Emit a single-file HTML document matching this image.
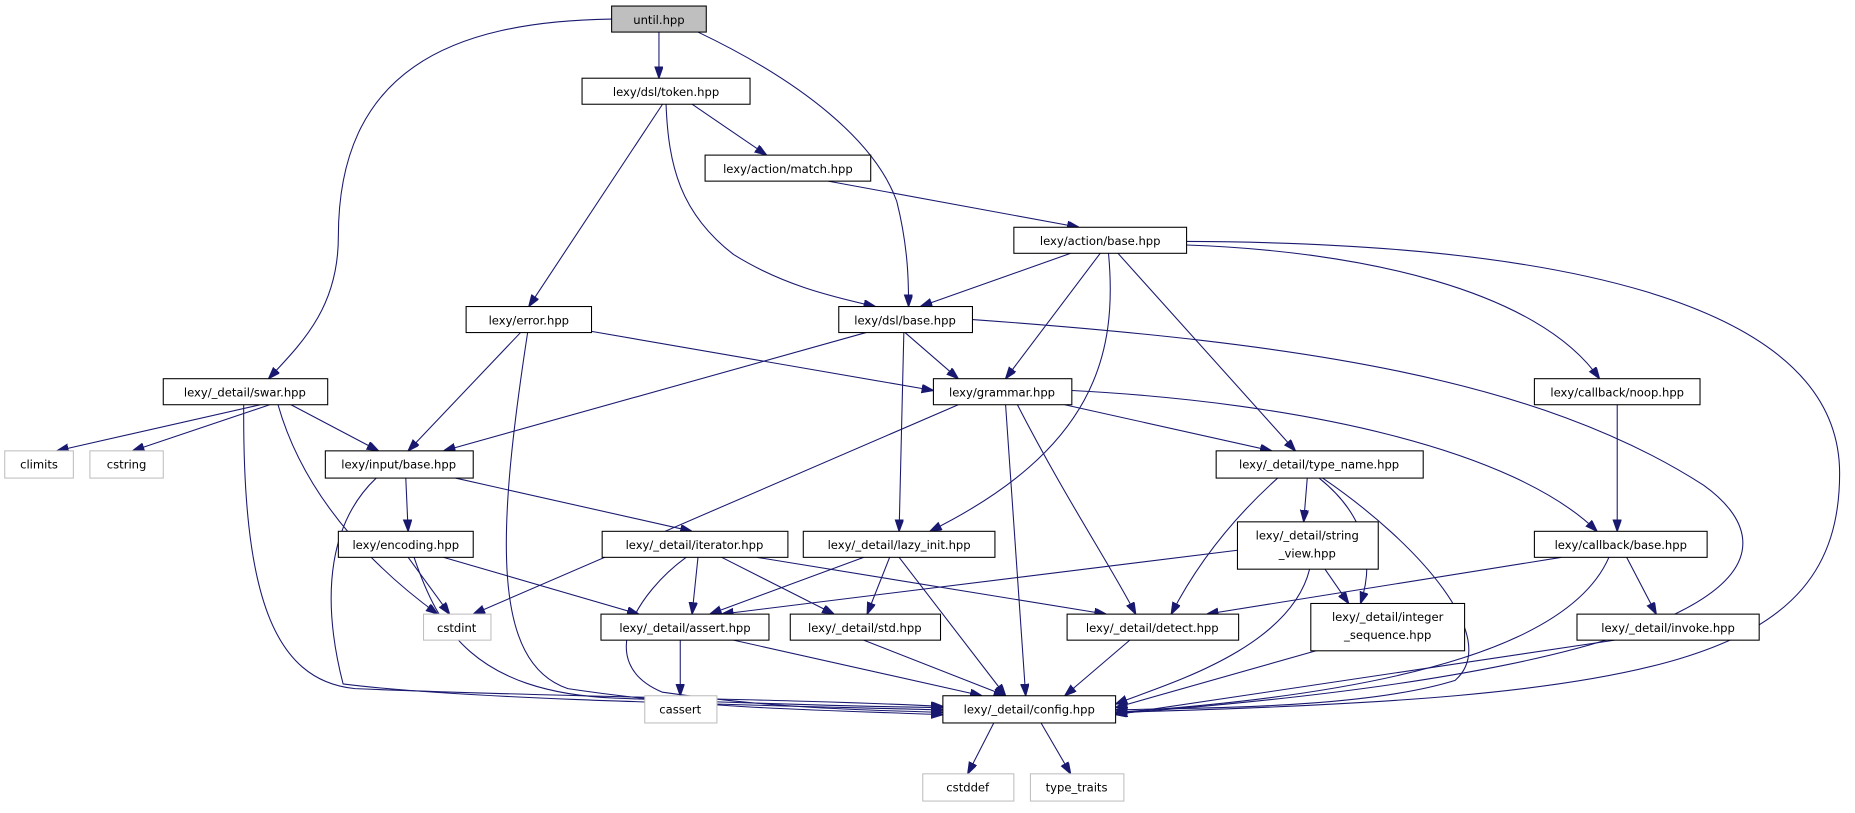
<!DOCTYPE html>
<html><head><meta charset="utf-8"><style>
html,body{margin:0;padding:0;background:#fff;}
svg{display:block;}
text{font-family:"DejaVu Sans","Liberation Sans",sans-serif;font-size:9.8px;fill:#000;}
.n{fill:#fff;stroke:#000;stroke-width:0.9;}
.s{fill:#fff;stroke:#bfbfbf;stroke-width:0.9;}
.e{fill:none;stroke:#191970;stroke-width:0.9;marker-end:url(#a);}
</style></head><body>
<svg width="1855" height="813" viewBox="0 0 1568 687" xmlns="http://www.w3.org/2000/svg">
<defs><marker id="a" markerUnits="userSpaceOnUse" markerWidth="10" markerHeight="8" refX="10" refY="3.5" orient="auto"><path d="M0,0 L10,3.5 L0,7 z" fill="#191970" stroke="#191970"/></marker></defs>
<g>
<path class="e" d="M517,16 C380,18 286,60 286,200 C286,260 255,290 227,320"/>
<path class="e" d="M557,27 L557,66"/>
<path class="e" d="M590,27 C680,70 740,120 758,170 C768,210 768,240 768,259"/>
<path class="e" d="M560,88 L447,259"/>
<path class="e" d="M563,88 C565,140 575,180 620,215 C660,240 700,250 740,259"/>
<path class="e" d="M585,88 L648,131"/>
<path class="e" d="M700,153 L912,192"/>
<path class="e" d="M905,214 L778,259"/>
<path class="e" d="M930,214 L850,320"/>
<path class="e" d="M937,214 C945,300 925,380 786,449"/>
<path class="e" d="M945,214 L1095,381"/>
<path class="e" d="M1003,207 C1150,212 1300,245 1352,320"/>
<path class="e" d="M1003,204 C1300,205 1555,250 1555,400 C1555,560 1400,590 943,602"/>
<path class="e" d="M440,281 L345,381"/>
<path class="e" d="M446,281 C420,450 415,560 480,582 C600,600 700,600 797,604"/>
<path class="e" d="M500,280 L789,330"/>
<path class="e" d="M732,281 L375,381"/>
<path class="e" d="M765,281 L810,320"/>
<path class="e" d="M764,281 L760,449"/>
<path class="e" d="M822,270 C1100,290 1300,320 1440,410 C1510,460 1520,560 943,603"/>
<path class="e" d="M810,342 L400,519"/>
<path class="e" d="M900,342 L1075,381"/>
<path class="e" d="M906,330 C1100,340 1280,380 1350,449"/>
<path class="e" d="M860,342 C900,420 940,480 960,519"/>
<path class="e" d="M850,342 L867,588"/>
<path class="e" d="M220,342 L48,381"/>
<path class="e" d="M228,342 L112,381"/>
<path class="e" d="M246,342 L320,381"/>
<path class="e" d="M235,342 C260,430 330,490 370,519"/>
<path class="e" d="M206,342 C205,500 230,575 300,582 C500,590 650,590 797,597"/>
<path class="e" d="M343,404 L345,449"/>
<path class="e" d="M385,404 L585,449"/>
<path class="e" d="M318,404 C280,440 270,500 290,578 C400,592 650,596 797,600"/>
<path class="e" d="M1367,342 L1367,449"/>
<path class="e" d="M1105,404 L1102,441"/>
<path class="e" d="M1080,404 C1040,440 1010,480 990,519"/>
<path class="e" d="M1115,404 C1160,440 1160,480 1150,510"/>
<path class="e" d="M1118,404 C1200,460 1270,540 1230,575 C1150,600 1000,598 943,600"/>
<path class="e" d="M345,471 L380,519"/>
<path class="e" d="M375,471 L540,519"/>
<path class="e" d="M350,471 C370,530 400,585 520,590 C650,595 720,597 797,598"/>
<path class="e" d="M590,471 L585,519"/>
<path class="e" d="M610,471 L705,519"/>
<path class="e" d="M640,471 L935,519"/>
<path class="e" d="M580,471 C540,500 500,560 560,585 C650,598 720,600 797,602"/>
<path class="e" d="M730,471 L600,519"/>
<path class="e" d="M752,471 L733,519"/>
<path class="e" d="M760,471 L850,588"/>
<path class="e" d="M1046,465 L610,519"/>
<path class="e" d="M1120,481 L1140,510"/>
<path class="e" d="M1107,481 C1090,550 980,580 943,595"/>
<path class="e" d="M1320,471 L1020,519"/>
<path class="e" d="M1375,471 L1400,519"/>
<path class="e" d="M1360,471 C1330,540 1200,585 943,602"/>
<path class="e" d="M575,541 L575,588"/>
<path class="e" d="M620,541 L830,588"/>
<path class="e" d="M730,541 L850,588"/>
<path class="e" d="M955,541 L900,588"/>
<path class="e" d="M1130,545 L943,598"/>
<path class="e" d="M1365,541 L943,604"/>
<path class="e" d="M840,611 L818,654"/>
<path class="e" d="M880,611 L905,654"/>
</g>
<g>
<rect x="517" y="5" width="80" height="22" fill="#bfbfbf" stroke="#000" stroke-width="0.9"/><text x="557" y="20" text-anchor="middle">until.hpp</text>
<rect class="n" x="492" y="66" width="142" height="22"/><text x="563" y="81" text-anchor="middle">lexy/dsl/token.hpp</text>
<rect class="n" x="596" y="131" width="140" height="22"/><text x="666" y="146" text-anchor="middle">lexy/action/match.hpp</text>
<rect class="n" x="857" y="192" width="146" height="22"/><text x="930" y="207" text-anchor="middle">lexy/action/base.hpp</text>
<rect class="n" x="394" y="259" width="106" height="22"/><text x="447" y="274" text-anchor="middle">lexy/error.hpp</text>
<rect class="n" x="709" y="259" width="113" height="22"/><text x="765" y="274" text-anchor="middle">lexy/dsl/base.hpp</text>
<rect class="n" x="789" y="320" width="117" height="22"/><text x="847" y="335" text-anchor="middle">lexy/grammar.hpp</text>
<rect class="n" x="138" y="320" width="139" height="22"/><text x="207" y="335" text-anchor="middle">lexy/_detail/swar.hpp</text>
<rect class="n" x="1297" y="320" width="140" height="22"/><text x="1367" y="335" text-anchor="middle">lexy/callback/noop.hpp</text>
<rect class="s" x="4" y="381" width="58" height="23"/><text x="33" y="396" text-anchor="middle">climits</text>
<rect class="s" x="76" y="381" width="62" height="23"/><text x="107" y="396" text-anchor="middle">cstring</text>
<rect class="n" x="275" y="381" width="125" height="23"/><text x="337" y="396" text-anchor="middle">lexy/input/base.hpp</text>
<rect class="n" x="1028" y="381" width="175" height="23"/><text x="1115" y="396" text-anchor="middle">lexy/_detail/type_name.hpp</text>
<rect class="n" x="286" y="449" width="114" height="22"/><text x="343" y="464" text-anchor="middle">lexy/encoding.hpp</text>
<rect class="n" x="509" y="449" width="157" height="22"/><text x="587" y="464" text-anchor="middle">lexy/_detail/iterator.hpp</text>
<rect class="n" x="679" y="449" width="162" height="22"/><text x="760" y="464" text-anchor="middle">lexy/_detail/lazy_init.hpp</text>
<rect class="n" x="1046" y="441" width="119" height="40"/><text x="1105" y="456" text-anchor="middle">lexy/_detail/string</text><text x="1105" y="471" text-anchor="middle">_view.hpp</text>
<rect class="n" x="1297" y="449" width="146" height="22"/><text x="1370" y="464" text-anchor="middle">lexy/callback/base.hpp</text>
<rect class="s" x="358" y="519" width="57" height="22"/><text x="386" y="534" text-anchor="middle">cstdint</text>
<rect class="n" x="508" y="519" width="142" height="22"/><text x="579" y="534" text-anchor="middle">lexy/_detail/assert.hpp</text>
<rect class="n" x="668" y="519" width="127" height="22"/><text x="731" y="534" text-anchor="middle">lexy/_detail/std.hpp</text>
<rect class="n" x="902" y="519" width="145" height="22"/><text x="974" y="534" text-anchor="middle">lexy/_detail/detect.hpp</text>
<rect class="n" x="1108" y="510" width="130" height="40"/><text x="1173" y="525" text-anchor="middle">lexy/_detail/integer</text><text x="1173" y="540" text-anchor="middle">_sequence.hpp</text>
<rect class="n" x="1333" y="519" width="154" height="22"/><text x="1410" y="534" text-anchor="middle">lexy/_detail/invoke.hpp</text>
<rect class="s" x="545" y="588" width="61" height="23"/><text x="575" y="603" text-anchor="middle">cassert</text>
<rect class="n" x="797" y="588" width="146" height="23"/><text x="870" y="603" text-anchor="middle">lexy/_detail/config.hpp</text>
<rect class="s" x="780" y="654" width="77" height="23"/><text x="818" y="669" text-anchor="middle">cstddef</text>
<rect class="s" x="871" y="654" width="79" height="23"/><text x="910" y="669" text-anchor="middle">type_traits</text>
</g>
</svg>
</body></html>
